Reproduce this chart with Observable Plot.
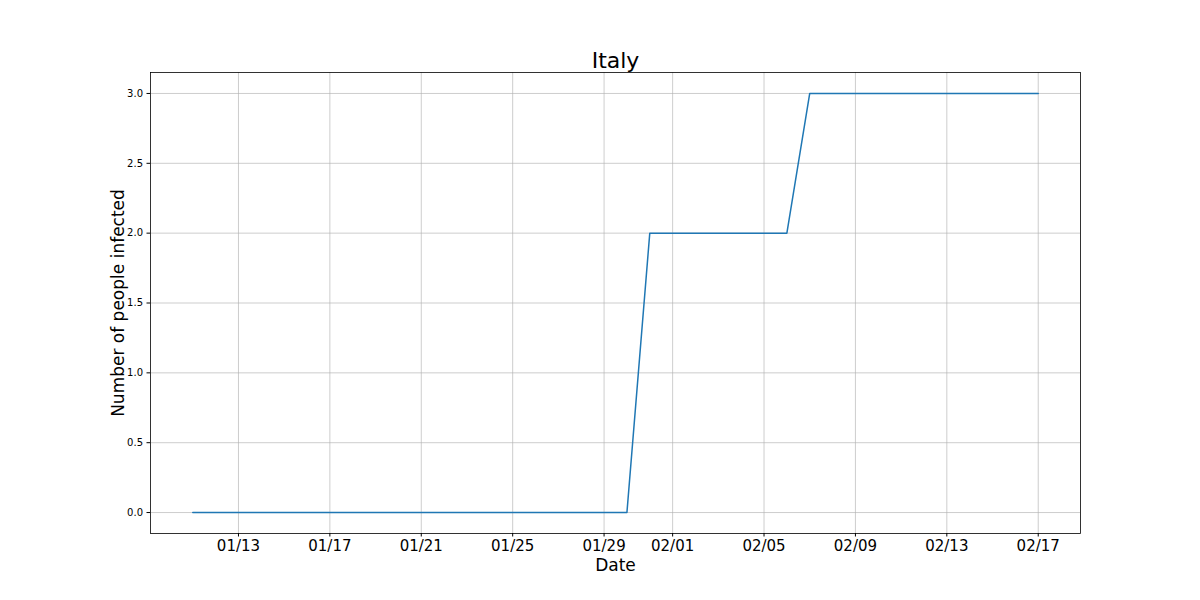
<!DOCTYPE html>
<html>
<head>
<meta charset="utf-8">
<script src="https://cdn.jsdelivr.net/npm/d3@7"></script>
<script src="https://cdn.jsdelivr.net/npm/@observablehq/plot@0.6"></script>
<style>
  html, body { margin: 0; padding: 0; background: #fff; }
  #chart { width: 1200px; height: 600px; }
</style>
</head>
<body>
<div id="chart"></div>
<script>
const title = "Italy";
const xLabel = "Date";
const yLabel = "Number of people infected";

const dates = [
  "2020-01-11","2020-01-12","2020-01-13","2020-01-14","2020-01-15","2020-01-16","2020-01-17",
  "2020-01-18","2020-01-19","2020-01-20","2020-01-21","2020-01-22","2020-01-23","2020-01-24",
  "2020-01-25","2020-01-26","2020-01-27","2020-01-28","2020-01-29","2020-01-30","2020-01-31",
  "2020-02-01","2020-02-02","2020-02-03","2020-02-04","2020-02-05","2020-02-06","2020-02-07",
  "2020-02-08","2020-02-09","2020-02-10","2020-02-11","2020-02-12","2020-02-13","2020-02-14",
  "2020-02-15","2020-02-16","2020-02-17"
];
const infected = [
  0,0,0,0,0,0,0,
  0,0,0,0,0,0,0,
  0,0,0,0,0,0,2,
  2,2,2,2,2,2,3,
  3,3,3,3,3,3,3,
  3,3,3
];

const xTicks = ["2020-01-13","2020-01-17","2020-01-21","2020-01-25","2020-01-29",
                "2020-02-01","2020-02-05","2020-02-09","2020-02-13","2020-02-17"];
const yTicks = [0, 0.5, 1.0, 1.5, 2.0, 2.5, 3.0];

const data = dates.map((d, i) => ({date: new Date(d + "T00:00:00Z"), value: infected[i]}));
const xTickDates = xTicks.map(d => new Date(d + "T00:00:00Z"));

const t0 = data[0].date.getTime(), t1 = data[data.length - 1].date.getTime();
const padX = (t1 - t0) * 0.05;
const yMin = d3.min(infected), yMax = d3.max(infected);
const padY = (yMax - yMin) * 0.05;

const fmtDate = d3.utcFormat("%m/%d");

const chart = Plot.plot({
  width: 1200,
  height: 600,
  marginLeft: 150,
  marginRight: 120,
  marginTop: 72,
  marginBottom: 67,
  style: {fontFamily: "DejaVu Sans, sans-serif", background: "#fff", color: "#000"},
  x: {type: "utc", domain: [new Date(t0 - padX), new Date(t1 + padX)]},
  y: {domain: [yMin - padY, yMax + padY]},
  marks: [
    Plot.gridX(xTickDates, {stroke: "#b0b0b0", strokeOpacity: 0.8, strokeWidth: 0.8}),
    Plot.gridY(yTicks, {stroke: "#b0b0b0", strokeOpacity: 0.8, strokeWidth: 0.8}),
    Plot.axisX(xTickDates, {
      tickFormat: fmtDate, tickSize: 3.5, tickPadding: 3.5, fontSize: 15,
      label: null
    }),
    Plot.axisY(yTicks, {
      tickFormat: d3.format(".1f"), tickSize: 3.5, tickPadding: 4, fontSize: 10,
      label: null
    }),
    Plot.line(data, {x: "date", y: "value", stroke: "#1f77b4", strokeWidth: 1.5}),
    Plot.frame({stroke: "#000", strokeWidth: 0.8}),
    Plot.text([title], {frameAnchor: "top", dy: -5, fontSize: 22, lineAnchor: "bottom"}),
    Plot.text([xLabel], {frameAnchor: "bottom", dy: 25, fontSize: 17, lineAnchor: "top"}),
    Plot.text([yLabel], {frameAnchor: "left", dx: -27, rotate: -90, fontSize: 17, textAnchor: "middle", lineAnchor: "bottom"})
  ]
});

document.getElementById("chart").appendChild(chart);
</script>
</body>
</html>
